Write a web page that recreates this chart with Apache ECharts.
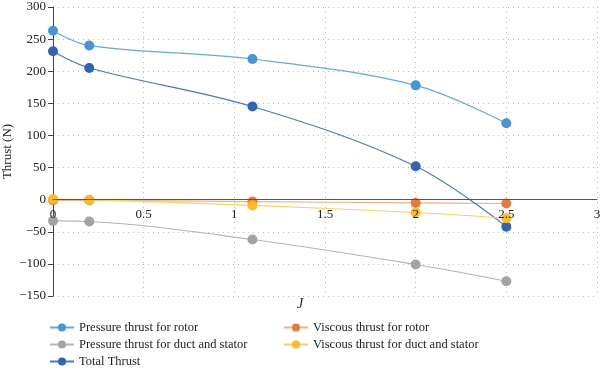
<!DOCTYPE html>
<html><head><meta charset="utf-8">
<script src="https://cdn.jsdelivr.net/npm/echarts@6/dist/echarts.min.js"></script>
<style>html,body{margin:0;padding:0;background:#fff}#c{width:600px;height:371px}</style>
</head><body><div id="c"></div>
<script>
const J = [0, 0.2, 1.1, 2, 2.5];
const pressureRotor = [263, 240, 219, 178, 119];
const viscousRotor = [-1, -1, -3, -5, -6];
const pressureDuct = [-33, -34, -62, -101, -127];
const viscousDuct = [1, 0, -9, -20, -29];
const totalThrust = [231, 205, 145, 52, -42];
const names = ['Pressure thrust for rotor','Viscous thrust for rotor','Pressure thrust for duct and stator','Viscous thrust for duct and stator','Total Thrust'];
const yMin = -150, yMax = 300;

const FONT = '"Liberation Serif", "DejaVu Serif", serif';
const GT = 7, GB = 75, H = 371;
const plotH = H - GT - GB;
const zeroOffset = -plotH * (0 - yMin) / (yMax - yMin);

function pts(ys){ return J.map((x,i)=>[x, ys[i]]); }
function mk(name, ys, mc, lc, z){
  return {name, type:'line', xAxisIndex:0, data:pts(ys), smooth:0.35, symbol:'circle', symbolSize:10,
    itemStyle:{color:mc}, lineStyle:{color:lc, width:1.2}, z:z};
}
function lg(name, left, top){
  return {data:[name], left:left, top:top, itemWidth:24, itemHeight:10, itemGap:5, padding:0,
    textStyle:{fontSize:12.5, color:'#222', fontFamily:FONT}};
}
const chart = echarts.init(document.getElementById('c'), null, {renderer:'canvas'});
chart.setOption({
  animation:false,
  textStyle:{fontFamily:FONT},
  grid:{left:53, right:3, top:GT, bottom:GB, containLabel:false, outerBoundsMode:'none'},
  xAxis:[
    {type:'value', min:0, max:3, interval:0.5, position:'bottom', offset:zeroOffset, z:10,
      axisLine:{onZero:false, lineStyle:{color:'#555', width:1}},
      axisTick:{show:false},
      axisLabel:{margin:8, fontSize:13, color:'#222', fontFamily:FONT},
      splitLine:{show:false}},
    {type:'value', min:0, max:3, interval:0.5, position:'top',
      axisLine:{show:false}, axisTick:{show:false}, axisLabel:{show:false},
      splitLine:{show:true, lineStyle:{type:[1,4], color:'#bbb'}}}
  ],
  yAxis:{type:'value', min:yMin, max:yMax, interval:50,
    name:'Thrust (N)', nameLocation:'middle', nameGap:39, nameRotate:90, nameMoveOverlap:false,
    nameTextStyle:{fontSize:13, color:'#222', fontFamily:FONT},
    axisLine:{show:true, lineStyle:{color:'#444', width:1}},
    axisTick:{show:true, length:5, lineStyle:{color:'#444'}},
    axisLabel:{margin:7, fontSize:13, color:'#222', fontFamily:FONT,
      formatter:v=> String(v).replace('-', '\u2212')},
    splitLine:{show:true, lineStyle:{type:[1,4], color:'#bbb'}}},
  legend:[
    lg(names[0], 49, 321), lg(names[2], 49, 338), lg(names[4], 49, 355),
    lg(names[1], 283, 321), lg(names[3], 283, 338)
  ],
  graphic:[{type:'text', left:'center', top:297, style:{text:'J', font:'italic 14px "Liberation Serif", serif', fill:'#222'}}],
  series:[
    mk(names[0], pressureRotor, '#4596d8', '#63a8e2', 5),
    mk(names[1], viscousRotor, '#ec7a37', '#f4ad86', 4),
    mk(names[2], pressureDuct, '#a3a3a3', '#b5b5b5', 3),
    mk(names[3], viscousDuct, '#fdbb1e', '#fdd259', 6),
    mk(names[4], totalThrust, '#2f64b6', '#4677c8', 5)
  ]
});
</script></body></html>
